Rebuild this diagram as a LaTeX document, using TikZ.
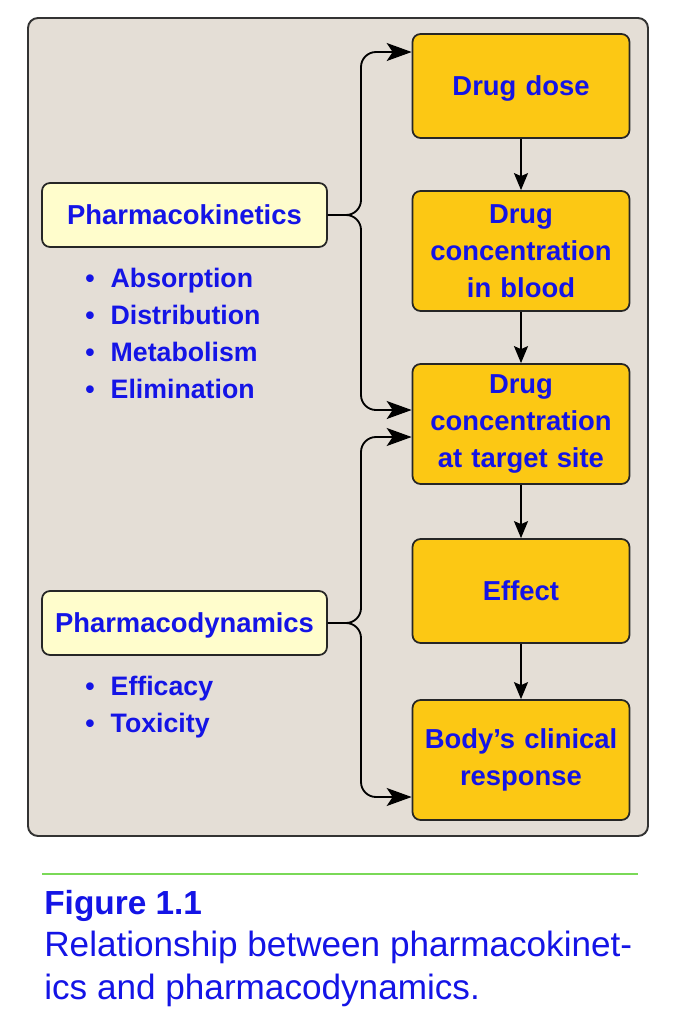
\documentclass[tikz,border=0pt]{standalone}
\usepackage{fontspec}
\setmainfont{Liberation Sans}
\usetikzlibrary{arrows.meta,positioning}
\definecolor{panelbg}{HTML}{E4DED6}
\definecolor{stepfill}{HTML}{FCC814}
\definecolor{notefill}{HTML}{FFFDCC}
\definecolor{textblue}{HTML}{1414E6}
\definecolor{rulegreen}{HTML}{7AD957}

\begin{document}
\begin{tikzpicture}[
  x=0.02cm, y=-0.02cm,
  stepbox/.style={draw=black!85, fill=stepfill, rounded corners=0.16cm, line width=1pt, minimum width=4.34cm, minimum height=#1, text width=4.1cm, align=center, font=\fontsize{15.6}{21}\selectfont\bfseries, text=textblue},
  stepbox/.default=2.08cm,
  notebox/.style={draw=black!85, fill=notefill, rounded corners=0.16cm, line width=1pt, minimum width=5.7cm, minimum height=1.28cm, font=\fontsize{15.6}{21}\selectfont\bfseries, text=textblue},
  itemlist/.style={anchor=north west, inner sep=0pt, align=left, font=\fontsize{15.2}{21}\selectfont\bfseries, text=textblue},
  flow/.style={-{Stealth[length=0.34cm, width=0.28cm, inset=0.06cm]}, line width=1.1pt},
  link/.style={-{Stealth[length=0.5cm, width=0.36cm, inset=0.12cm]}, line width=1.05pt, rounded corners=0.3cm}
]
  \useasboundingbox[fill=white] (0,0) rectangle (682,1024);

  % panel
  \draw[fill=panelbg, draw=black!80, line width=1.1pt, rounded corners=0.2cm] (28,18) rectangle (648,836);

  % main chain
  \node[stepbox, text depth=0pt] (dose) at (521,86) {Drug dose};
  \node[stepbox=2.4cm] (blood) at (521,251) {Drug\\concentration\\in blood};
  \node[stepbox=2.4cm] (target) at (521,424) {Drug\\concentration\\at target site};
  \node[stepbox] (effect) at (521,591) {Effect};
  \node[stepbox=2.4cm] (response) at (521,760) {Body's clinical\\response};

  \draw[flow] (dose) -- (blood);
  \draw[flow] (blood) -- (target);
  \draw[flow] (target) -- (effect);
  \draw[flow] (effect) -- (response);

  % left side
  \node[notebox] (pk) at (184.5,215) {Pharmacokinetics};
  \node[itemlist] (pklist) at (85,268) {\textbullet\hspace{0.32cm}Absorption\\ \textbullet\hspace{0.32cm}Distribution\\ \textbullet\hspace{0.32cm}Metabolism\\ \textbullet\hspace{0.32cm}Elimination};

  \node[notebox, text depth=0pt] (pd) at (184.5,623) {Pharmacodynamics};
  \node[itemlist] (pdlist) at (85,676) {\textbullet\hspace{0.32cm}Efficacy\\ \textbullet\hspace{0.32cm}Toxicity};

  % braces into the chain
  \coordinate (bus) at (361,0);
  \draw[link] (pk.east) -- (pk.east -| bus) |- ([yshift=0.68cm]dose.west);
  \draw[link] (pk.east) -- (pk.east -| bus) |- ([yshift=0.28cm]target.west);
  \draw[link] (pd.east) -- (pd.east -| bus) |- ([yshift=-0.26cm]target.west);
  \draw[link] (pd.east) -- (pd.east -| bus) |- ([yshift=-0.74cm]response.west);

  % caption
  \draw[rulegreen, line width=1.2pt] (42,874) coordinate (rulestart) -- (638,874) coordinate (ruleend);
  \node[anchor=base west, inner sep=0pt, text=textblue, font=\fontsize{19}{23}\selectfont\bfseries] (figlabel) at (44,914) {Figure 1.1};
  \node[anchor=north west, inner sep=0pt, align=left, text=textblue, font=\fontsize{20}{24.4}\selectfont] (captext) at (44,931) {Relationship between pharmacokinet-\\ics and pharmacodynamics.};
\end{tikzpicture}
\end{document}
